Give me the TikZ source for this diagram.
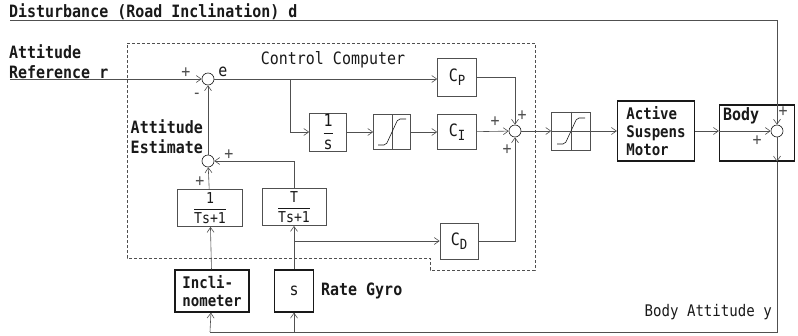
\documentclass[tikz,border=0pt]{standalone}
\usepackage{amsmath}
\usepackage{fontspec}
\usetikzlibrary{
  arrows.meta,
  calc,
  positioning
}
\newfontfamily\scanfont[FakeStretch=0.88]{DejaVu Sans Mono}
\newcommand{\scantxt}{\scanfont\fontsize{17}{20}\selectfont}
\newcommand{\blkfrac}[2]{$\dfrac{\hbox{#1}}{\hbox{#2}}$}
\newcommand{\csub}[1]{C\raisebox{-0.45ex}{\fontsize{14}{14}\selectfont #1}}
\definecolor{inkdark}{RGB}{25, 25, 25}
\definecolor{inkgray}{RGB}{80, 80, 80}
\tikzset{
  % Signal lines
  sigline/.style  = {semithick, draw=inkgray},
  sigarrow/.style = {sigline, -{Straight Barb[length=5pt,width=7pt]}},
  % Blocks
  cblock/.style   = {draw=inkgray, semithick, fill=white, inner sep=1pt,
                     font=\scantxt, text=inkdark},
  hblock/.style   = {draw=inkdark, very thick, fill=white, inner sep=1pt,
                     font=\scantxt\bfseries, text=inkdark},
  sumpt/.style    = {circle, draw=inkdark, semithick, fill=white,
                     minimum size=12pt, inner sep=0pt},
  % Computer border
  compbox/.style  = {draw=inkgray, densely dashed, thin},
  % Labels
  lab/.style      = {font=\scantxt\bfseries, text=inkdark, inner sep=1pt},
  labthin/.style  = {font=\scantxt, text=inkdark, inner sep=1pt},
  sgn/.style      = {font=\scanfont\fontsize{17}{17}\selectfont, text=inkgray, inner sep=0pt},
}

\begin{document}
\begin{tikzpicture}[x=1pt,y=-1pt]
  \useasboundingbox (0,0) rectangle (798,335);
  % Control computer border
  \draw[compbox] (127,43) -- (535,43) -- (535,270) -- (430,270)
    -- (430,258) -- (127,258) -- cycle;
  \node[labthin] (cctitle) at (333,60) {Control Computer};
  % Free ends
  \coordinate (dstart)  at (10,20);
  \coordinate (dcorner) at (777,20);
  \coordinate (rstart)  at (10,79);
  \coordinate (ebranch) at (290,79);
  \coordinate (gbranch) at (294,241);
  \coordinate (fbR)     at (777,332);
  \coordinate (fbL)     at (210,332);
  % Summing points
  \node[sumpt] (sumA) at (208,79) {};
  \node[sumpt] (sumB) at (208,161) {};
  \node[sumpt] (sumC) at (515,131) {};
  % Controller blocks
  \node[cblock, minimum width=39pt, minimum height=38pt] (cp) at (457,77) {\csub{P}};
  \node[cblock, minimum width=37pt, minimum height=35pt] (integ) at (328,132) {\blkfrac{1}{s}};
  \node[cblock, minimum width=37pt, minimum height=35pt] (satA) at (392,132) {};
  \node[cblock, minimum width=39pt, minimum height=35pt] (ci) at (457,132) {\csub{I}};
  \node[cblock, minimum width=38pt, minimum height=36pt] (cd) at (459,241) {\csub{D}};
  \node[cblock, minimum width=39pt, minimum height=38pt] (satB) at (571,131) {};
  % Filters
  \node[cblock, thick, minimum width=65pt, minimum height=37pt, font=\scanfont\fontsize{15}{15}\selectfont]
    (filtA) at (210,208) {\blkfrac{1}{Ts+1}};
  \node[cblock, thick, minimum width=64pt, minimum height=37pt, font=\scanfont\fontsize{15}{15}\selectfont]
    (filtB) at (294,207) {\blkfrac{T}{Ts+1}};
  % Plant and sensors
  \node[hblock, minimum width=77pt, minimum height=60pt, align=left,
    font=\scanfont\fontsize{16}{18}\selectfont\bfseries] (motor) at (656,131) {Active\\Suspens\\Motor};
  \node[hblock, minimum width=75pt, minimum height=56pt,
    label={[lab, anchor=north west, xshift=3pt, yshift=-2pt]north west:Body}] (body) at (757,133) {};
  \node[sumpt] (sumD) at (777,131) {};
  \node[hblock, minimum width=74pt, minimum height=42pt, align=left,
    font=\scanfont\fontsize{16}{18}\selectfont\bfseries] (incl) at (212,291) {Incli-\\nometer};
  \node[hblock, minimum width=39pt, minimum height=42pt, font=\scantxt] (gyro) at (294,291) {s};
  % Saturation curves
  \foreach \n in {satA,satB}{
    \draw[inkgray, thin] (\n.north) -- (\n.south);
    \draw[inkdark, semithick, rounded corners=2pt] ($(\n)+(-14,13)$) -- ($(\n)+(-6,13)$)
      -- ($(\n)+(6,-13)$) -- ($(\n)+(14,-13)$);
  }
  % Connectors
  \draw[sigline] (dstart) -- (dcorner);
  \draw[sigarrow] (dcorner) -- (sumD);
  \draw[sigarrow] (rstart) -- (sumA);
  \draw[sigline] (sumA) -- (ebranch);
  \draw[sigarrow] (ebranch) -- (cp.west |- ebranch);
  \draw[sigarrow] (ebranch) |- (integ);
  \draw[sigarrow] (integ) -- (satA);
  \draw[sigarrow] (satA) -- (ci);
  \draw[sigarrow] (ci) -- (sumC);
  \draw[sigarrow] (cp.east) -| (sumC);
  \draw[sigarrow] (cd.east) -| (sumC);
  \draw[sigarrow] (sumC) -- (satB);
  \draw[sigline] (satB.west) -- (satB.east);
  \draw[sigarrow] (satB) -- (motor);
  \draw[sigarrow] (motor) -- (motor -| body.west);
  \draw[sigarrow] (motor -| body.west) -- (sumD);
  \draw[sigarrow] (sumD) -- (sumD |- body.south);
  \draw[sigline] (sumD |- body.south) -- (fbR) -- (fbL);
  \draw[sigarrow] (fbL) -- (incl);
  \draw[sigarrow] (gyro |- fbR) -- (gyro);
  \draw[sigarrow] (incl) -- (filtA);
  \draw[sigarrow] (filtA) -- (sumB);
  \draw[sigarrow] (gyro) -- (filtB);
  \draw[sigarrow] (gbranch) -- (cd);
  \draw[sigarrow] (filtB) |- (sumB);
  \draw[sigarrow] (sumB) -- (sumA);
  % Texts
  \node[lab, anchor=south west] (dtxt) at (8,21) {Disturbance (Road Inclination) d};
  \node[lab, anchor=south west, align=left] (rtxt) at (8,80) {Attitude\\Reference r};
  \node[lab, anchor=east, align=left] (esttxt) at (204,137) {Attitude\\Estimate};
  \node[labthin] (etxt) at (223,72) {e};
  \node[lab, anchor=west] (gyrotxt) at (320,291) {Rate Gyro};
  \node[labthin, anchor=east, font=\scanfont\fontsize{16}{18}\selectfont] (ytxt) at (773,312) {Body Attitude y};
  % Signs
  \node[sgn] (sA1) at (186,73) {+};
  \node[sgn] (sA2) at (197,96) {-};
  \node[sgn] (sB1) at (229,155) {+};
  \node[sgn] (sB2) at (200,182) {+};
  \node[sgn] (sC1) at (495,122) {+};
  \node[sgn] (sC2) at (522,116) {+};
  \node[sgn] (sC3) at (507,150) {+};
  \node[sgn] (sD1) at (783,112) {+};
  \node[sgn] (sD2) at (757,141) {+};
\end{tikzpicture}
\end{document}
